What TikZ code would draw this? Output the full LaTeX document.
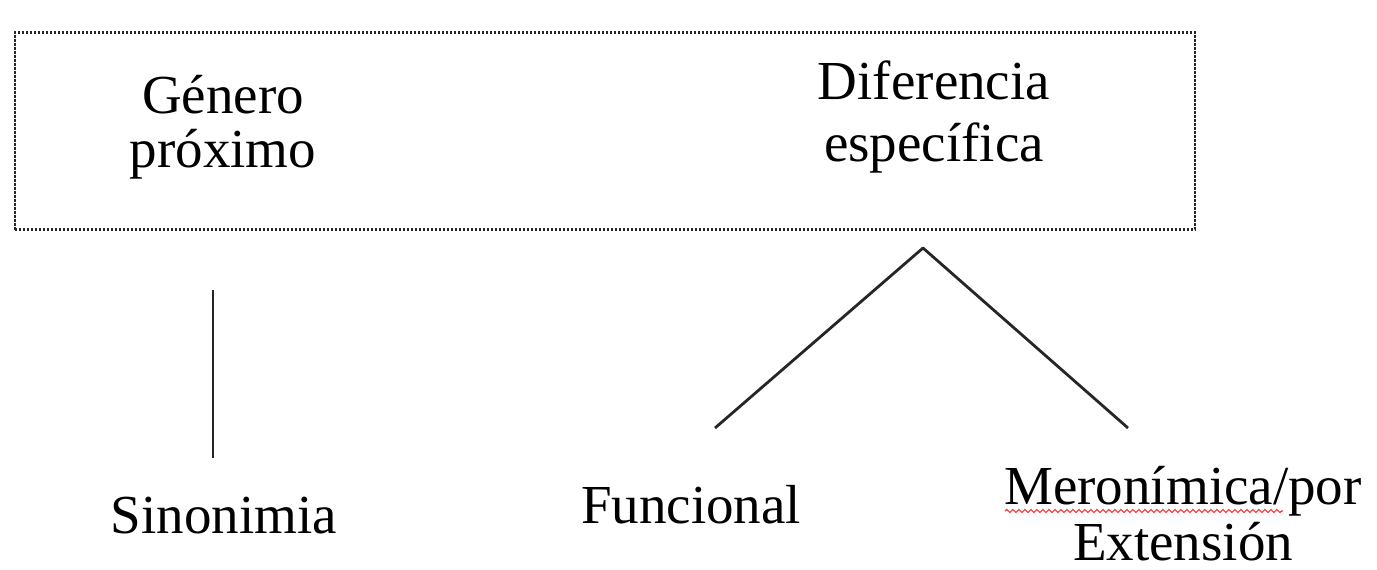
\documentclass[tikz,border=0pt]{standalone}
\usepackage{fontspec}
\setmainfont{Liberation Serif}
\usetikzlibrary{decorations.pathmorphing}
\begin{document}
\begin{tikzpicture}[x=1pt,y=-1pt,
  lbl/.style={inner sep=0pt, anchor=base, align=center},
  conn/.style={line width=2.8pt, draw=black!85},
  frame/.style={draw=black!85, line width=2.4pt, dash pattern=on 2.4pt off 1.6pt, inner sep=0pt}]
\useasboundingbox (0,0) rectangle (1377,570);
\node[frame, minimum width=1180pt, minimum height=197pt] (box) at (605,131) {};
\node[lbl, font=\fontsize{55}{54}\selectfont] (genero) at (223,167) {Género\\próximo};
\node[lbl, font=\fontsize{55}{62}\selectfont] (dif) at (934,161) {Diferencia\\específica};
\coordinate (v1) at (213,290);
\coordinate (v2) at (213,458);
\coordinate (apex) at (923,248);
\coordinate (fl) at (715,428);
\coordinate (fr) at (1128,428);
\draw[conn] (v1) -- (v2);
\draw[conn, line join=round] (fl) -- (apex) -- (fr);
\node[lbl, font=\fontsize{55}{58}\selectfont] (sin) at (224,533) {Sinonimia};
\node[lbl, font=\fontsize{55}{58}\selectfont] (fun) at (691,523) {Funcional};
\node[lbl, text depth=0pt, font=\fontsize{55}{56}\selectfont] (mer) at (1183,560) {Meronímica/por\\Extensión};
\coordinate (w1) at (1005,511);
\coordinate (w2) at (1283,511);
\draw[red!80, line width=1.2pt, decorate, decoration={snake, amplitude=1.5pt, segment length=6pt}] (w1) -- (w2);
\end{tikzpicture}
\end{document}
